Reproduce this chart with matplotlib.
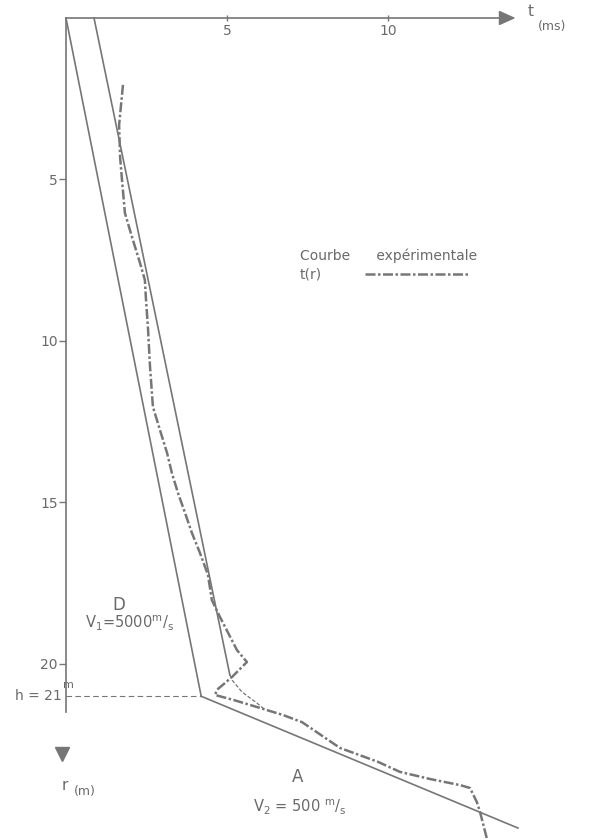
import matplotlib.pyplot as plt

# direct wave, V1 = 5000 m/s
t_direct = [0.0, 4.2]
r_direct = [0.0, 21.0]

# second straight line, parallel to the direct one
t_parallel = [0.87, 5.09]
r_parallel = [0.0, 20.34]

# thin dashed bend after the parallel line
t_bend = [5.09, 5.16, 5.47, 5.93, 6.18]
r_bend = [20.34, 20.50, 20.87, 21.21, 21.42]

# refracted branch, V2 = 500 m/s
t_refr = [4.2, 14.04]
r_refr = [21.0, 25.08]

# experimental curve t(r)
t_exp = [1.77, 1.71, 1.65, 1.68, 1.74, 1.83, 2.05, 2.30, 2.45, 2.48, 2.55,
         2.61, 2.70, 2.92, 3.14, 3.29, 3.48, 3.70, 3.91, 4.16, 4.41, 4.53,
         4.78, 5.31, 5.62, 5.16, 4.69, 4.63, 5.19, 6.02, 6.74, 7.33, 8.51,
         9.69, 10.37, 11.30, 12.24, 12.55, 12.76, 12.86, 13.07]
r_exp = [2.07, 2.69, 3.31, 4.30, 5.02, 6.04, 6.78, 7.59, 8.11, 8.64, 9.66,
         10.80, 12.04, 12.76, 13.47, 14.09, 14.71, 15.33, 15.94, 16.56, 17.24,
         18.02, 18.54, 19.57, 19.94, 20.40, 20.80, 20.96, 21.11, 21.36, 21.58,
         21.80, 22.60, 23.03, 23.34, 23.56, 23.75, 23.84, 24.27, 24.58, 25.39]

t_ticks = [5, 10]
r_ticks = [5, 10, 15, 20]
h = 21
t_axis_end = 13.5
r_axis_end = 21.5

GREY = "#767676"
TEXT = "#6a6a6a"

plt.rcParams["mathtext.default"] = "regular"
plt.rcParams["font.family"] = ["DejaVu Sans"]

fig = plt.figure(figsize=(5.93, 8.40), dpi=100)
ax = fig.add_axes([0, 0, 1, 1])
ax.set_xlim(-2.05, 16.37)
ax.set_ylim(25.45, -0.557)

# axes drawn as spines crossing at the origin
for side in ["top", "right"]:
    ax.spines[side].set_visible(False)
ax.spines["left"].set_position(("data", 0))
ax.spines["bottom"].set_position(("data", 0))
ax.spines["left"].set_bounds(0, r_axis_end)
ax.spines["bottom"].set_bounds(0, t_axis_end)
for side in ["left", "bottom"]:
    ax.spines[side].set_color(GREY)
    ax.spines[side].set_linewidth(1.2)

ax.set_xticks(t_ticks)
ax.set_yticks(r_ticks)
ax.tick_params(axis="x", direction="inout", length=5, width=1, colors=GREY,
               labelcolor=TEXT, labelsize=10, pad=2)
ax.tick_params(axis="y", direction="out", length=5, width=1, colors=GREY,
               labelcolor=TEXT, labelsize=10, pad=1)

# axis arrows
ax.annotate("", xy=(t_axis_end + 0.55, 0), xytext=(t_axis_end - 0.1, 0),
            arrowprops=dict(arrowstyle="-|>,head_length=1.0,head_width=0.45",
                            color=GREY, lw=1.2))
ax.plot([-0.12], [r_axis_end + 1.3], marker="v", ms=10, color=GREY)

ax.text(t_axis_end + 0.85, -0.2, "t", color=TEXT, fontsize=11,
        ha="left", va="center")
ax.text(t_axis_end + 1.15, 0.25, "(ms)", color=TEXT, fontsize=9,
        ha="left", va="center")
ax.text(-0.15, 23.75, "r", color=TEXT, fontsize=11, ha="left", va="center")
ax.text(0.25, 23.95, "(m)", color=TEXT, fontsize=9, ha="left", va="center")

# model lines
ax.plot(t_direct, r_direct, color=GREY, lw=1.2)
ax.plot(t_parallel, r_parallel, color=GREY, lw=1.2)
ax.plot(t_refr, r_refr, color=GREY, lw=1.2)
ax.plot(t_bend, r_bend, color=GREY, lw=0.9, linestyle=(0, (3, 1.5)))

# depth of the interface
ax.plot([0, t_direct[-1]], [h, h], color=GREY, lw=0.8,
        linestyle=(0, (5, 3)))
ax.text(-0.12, h - 0.02, "h = 21", color=TEXT, fontsize=10,
        ha="right", va="center")
ax.text(-0.1, h - 0.35, "m", color=TEXT, fontsize=8, ha="left", va="center")

# experimental curve
ax.plot(t_exp, r_exp, color=GREY, lw=1.8, linestyle=(0, (4, 1, 1, 1)),
        label="t(r)")

ax.text(1.65, 18.17, "D", color=TEXT, fontsize=12, ha="center", va="center")
ax.text(0.6, 18.75, r"V$_1$=5000$^{m}/_{s}$", color=TEXT, fontsize=10.5,
        ha="left", va="center")
ax.text(7.2, 23.5, "A", color=TEXT, fontsize=12, ha="center", va="center")
ax.text(5.8, 24.45, r"V$_2$ = 500 $^{m}/_{s}$", color=TEXT, fontsize=10.5,
        ha="left", va="center")

leg = ax.legend(loc="upper left", bbox_to_anchor=(0.494, 0.712),
                title="Courbe      expérimentale", title_fontsize=10,
                fontsize=10, frameon=False, markerfirst=False,
                handlelength=7.5, handletextpad=3.1, borderpad=0,
                labelspacing=0.3, alignment="left")
leg.get_title().set_color(TEXT)
for txt in leg.get_texts():
    txt.set_color(TEXT)

fig.savefig("out.png", dpi=100, facecolor="white")
